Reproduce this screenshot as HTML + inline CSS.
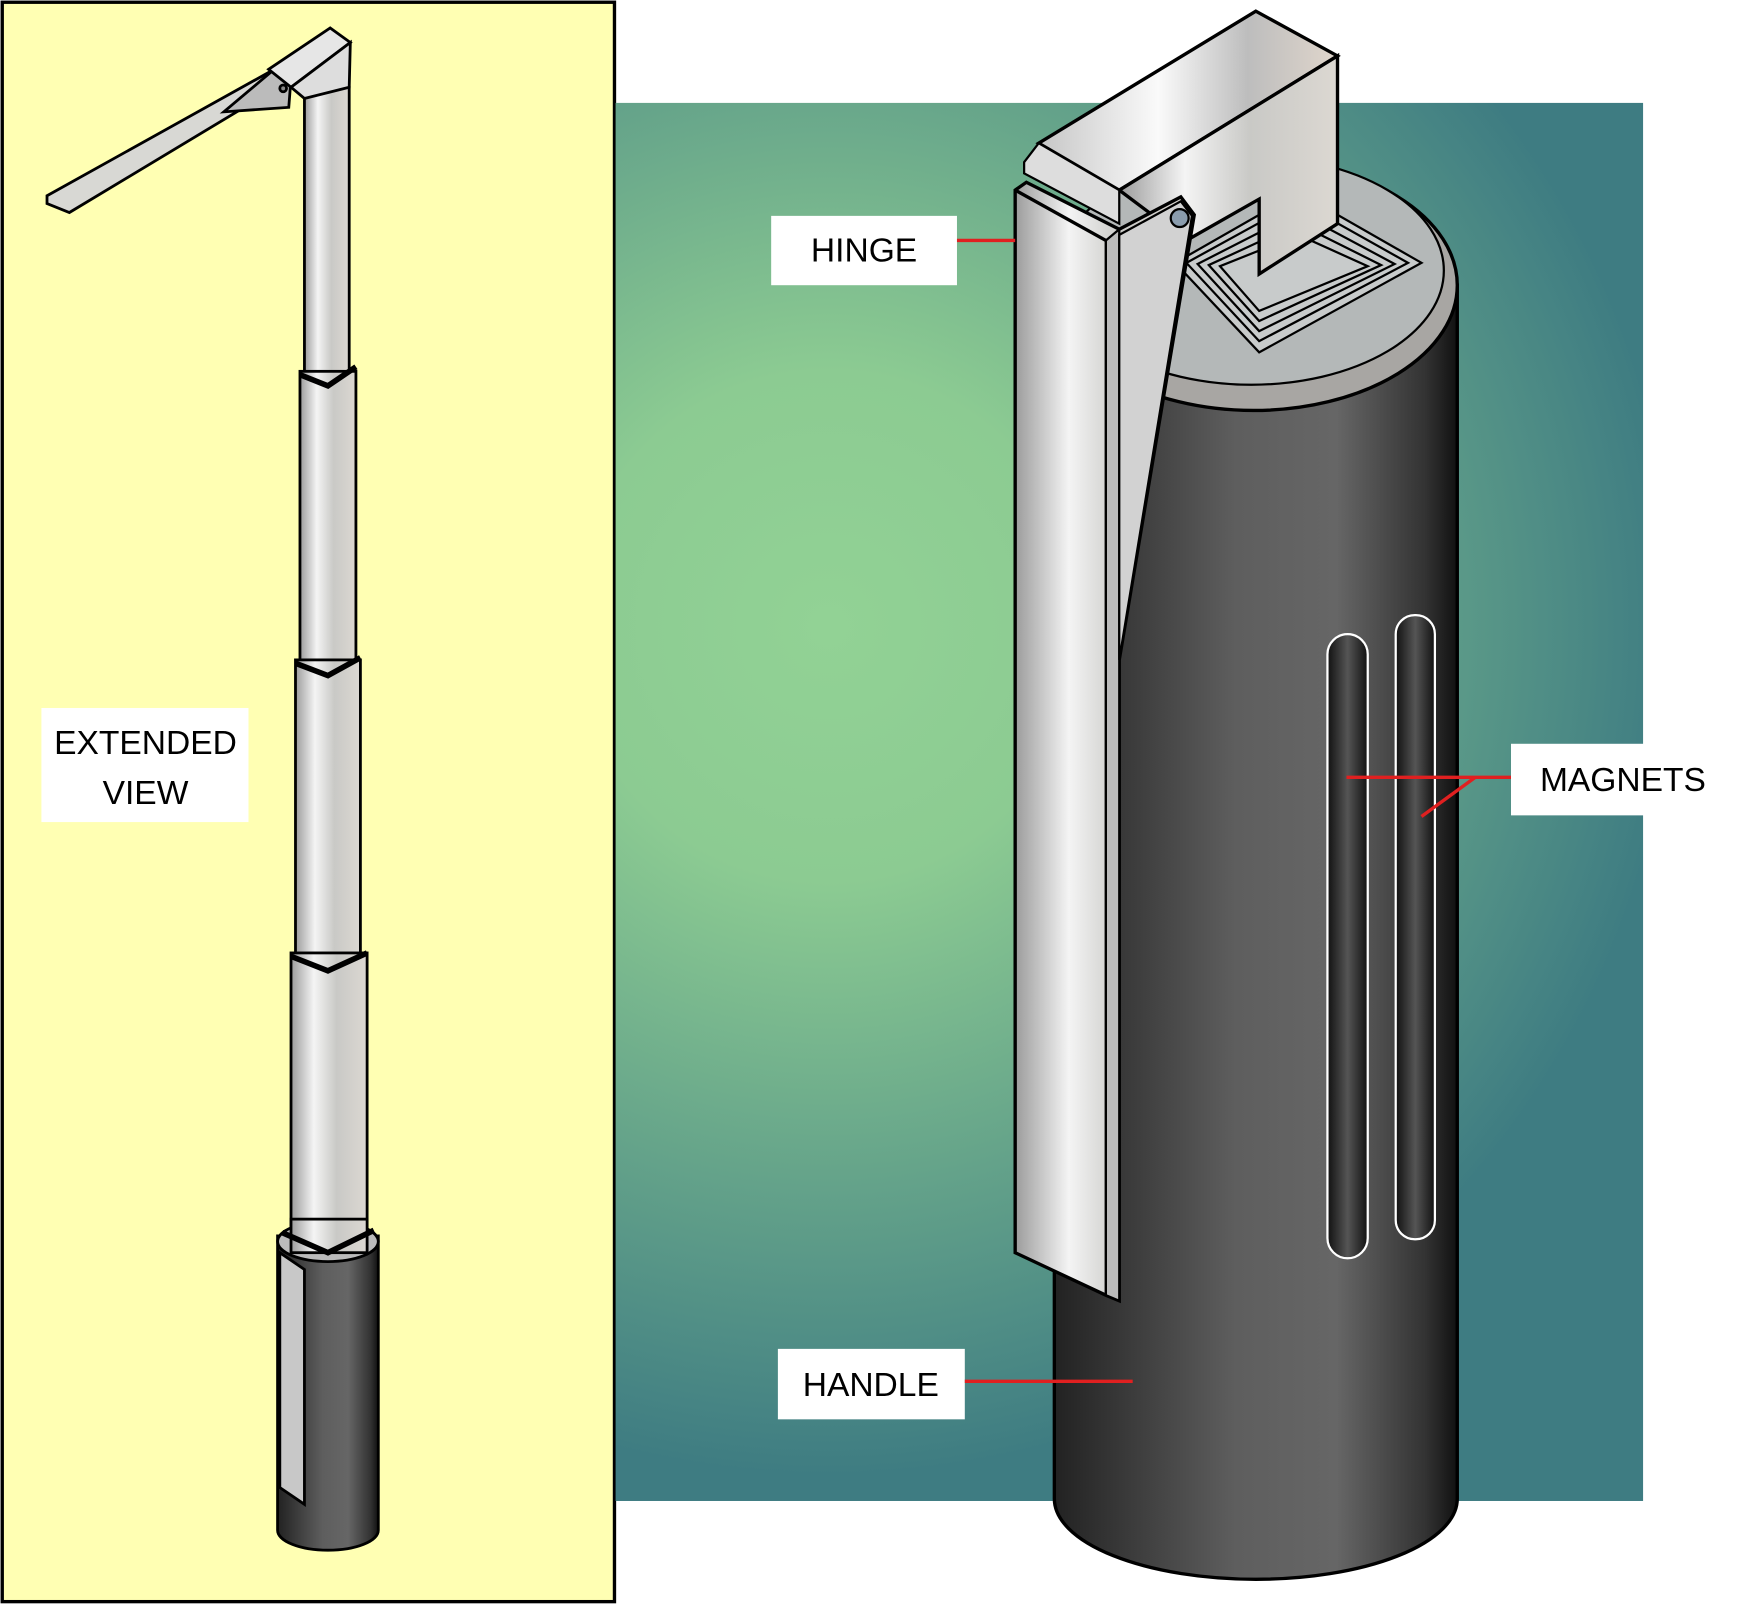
<!DOCTYPE html>
<html><head><meta charset="utf-8"><style>
html,body{margin:0;padding:0;background:#fff}
svg{display:block}
text{font-family:"Liberation Sans",sans-serif;font-size:30px;fill:#000}
</style></head><body>
<svg width="1755" height="1605" viewBox="0 0 1568 1435" preserveAspectRatio="none" xmlns="http://www.w3.org/2000/svg">
<defs>
<radialGradient id="bg" cx="740" cy="560" r="760" gradientUnits="userSpaceOnUse">
<stop offset="0" stop-color="#92d295"/><stop offset="0.3" stop-color="#8ccb92"/><stop offset="1" stop-color="#3e7c82"/></radialGradient>
<linearGradient id="cyl" x1="0" x2="1" y1="0" y2="0">
<stop offset="0" stop-color="#222"/><stop offset="0.45" stop-color="#5e5e5e"/><stop offset="0.7" stop-color="#666"/><stop offset="0.92" stop-color="#333"/><stop offset="1" stop-color="#111"/></linearGradient>
<linearGradient id="met" x1="0" x2="1" y1="0" y2="0">
<stop offset="0" stop-color="#9c9c9c"/><stop offset="0.3" stop-color="#f4f4f4"/><stop offset="0.6" stop-color="#c9c9c6"/><stop offset="1" stop-color="#dcd8d2"/></linearGradient>
<linearGradient id="met2" x1="0" x2="1" y1="0" y2="0">
<stop offset="0" stop-color="#c6c6c6"/><stop offset="0.4" stop-color="#fafafa"/><stop offset="0.7" stop-color="#bdbdbd"/><stop offset="1" stop-color="#e0d6cc"/></linearGradient>
<linearGradient id="slot" x1="0" x2="1"><stop offset="0" stop-color="#111"/><stop offset="0.5" stop-color="#555"/><stop offset="1" stop-color="#111"/></linearGradient>
</defs>
<rect x="2" y="2" width="547" height="1430" fill="#ffffb3" stroke="#000" stroke-width="3"/>
<rect x="550" y="92" width="918" height="1250" fill="url(#bg)"/>

<path d="M942 255 L942 1340 A180 72 0 0 0 1302 1340 L1302 255 Z" fill="url(#cyl)" stroke="#000" stroke-width="3"/>
<ellipse cx="1120" cy="255" rx="182" ry="112" fill="#a8a6a3" stroke="#000" stroke-width="3"/>
<ellipse cx="1118" cy="242" rx="172" ry="102" fill="#b4b8b8" stroke="#000" stroke-width="2"/>
<g fill="#c8cbcb" stroke="#000" stroke-width="2">
<polygon points="1050,235 1160,172 1270,235 1125,315"/>
<polygon points="1060,235 1160,180 1258,235 1125,305"/>
<polygon points="1070,236 1160,190 1246,236 1125,296"/>
<polygon points="1080,237 1160,200 1234,237 1125,287"/>
<polygon points="1090,238 1160,210 1222,238 1125,278"/>
</g>
<polygon points="928,128 1122,10 1195,50 1000,170" fill="url(#met2)" stroke="#000" stroke-width="3"/>
<polygon points="1195,50 1195,200 1125,245 1125,178 1060,215 1000,170" fill="url(#met)" stroke="#000" stroke-width="3"/>
<polygon points="915,145 928,128 1000,170 1000,200 915,155" fill="#ddd" stroke="#000" stroke-width="2"/>
<polygon points="907,170 917,163 1000,205 1055,176 1067,192 1000,590 1000,1163 988,1158 907,1120" fill="url(#met)" stroke="#000" stroke-width="3"/>
<polygon points="988,215 1000,205 1000,1163 988,1158" fill="#bbb" stroke="#000" stroke-width="2"/>
<polygon points="1000,210 1055,180 1065,193 1000,590" fill="#d2d2d2" stroke="#000" stroke-width="2"/>
<line x1="907" y1="170" x2="988" y2="215" stroke="#000" stroke-width="3"/>
<line x1="988" y1="215" x2="988" y2="1158" stroke="#000" stroke-width="2"/>
<circle cx="1054" cy="195" r="8" fill="#8a9cad" stroke="#000" stroke-width="2"/>
<rect x="1186" y="567" width="36" height="558" rx="18" fill="url(#slot)" stroke="#fff" stroke-width="2"/>
<rect x="1247" y="550" width="35" height="558" rx="17" fill="url(#slot)" stroke="#fff" stroke-width="2"/>

<rect x="689" y="193" width="166" height="62" fill="#fff"/>
<text x="772" y="234" text-anchor="middle">HINGE</text>
<line x1="855" y1="215" x2="907" y2="215" stroke="#e02020" stroke-width="3"/>
<rect x="1350" y="665" width="200" height="64" fill="#fff"/>
<text x="1450" y="707" text-anchor="middle">MAGNETS</text>
<polyline points="1203,695 1350,695" fill="none" stroke="#e02020" stroke-width="3"/>
<line x1="1318" y1="695" x2="1270" y2="730" stroke="#e02020" stroke-width="3"/>
<rect x="695" y="1206" width="167" height="63" fill="#fff"/>
<text x="778" y="1248" text-anchor="middle">HANDLE</text>
<line x1="862" y1="1235" x2="1012" y2="1235" stroke="#e02020" stroke-width="3"/>
<rect x="37" y="633" width="185" height="102" fill="#fff"/>
<text x="130" y="674" text-anchor="middle">EXTENDED</text>
<text x="130" y="719" text-anchor="middle">VIEW</text>

<g stroke="#000" stroke-width="2.5">
<polygon points="42,175 245,62 258,72 62,190 42,182" fill="#d8d8d4"/>
<polygon points="200,100 245,62 260,70 258,96" fill="#bbb"/>
<polygon points="240,62 295,25 313,38 260,78" fill="#e6e6e6"/>
<circle cx="253" cy="79" r="3" fill="#888"/>
<rect x="272" y="78" width="40" height="260" fill="url(#met)"/>
<polygon points="260,78 313,38 312,78 272,88" fill="#ddd"/>
<rect x="268" y="332" width="50" height="262" fill="url(#met)"/>
<rect x="264" y="590" width="58" height="266" fill="url(#met)"/>
<rect x="260" y="852" width="68" height="262" fill="url(#met)"/>
<path d="M248 1105 L248 1368 A45 18 0 0 0 338 1368 L338 1105 Z" fill="url(#cyl)"/>
<ellipse cx="293" cy="1110" rx="45" ry="18" fill="#bbb"/>
<rect x="260" y="1090" width="68" height="30" fill="url(#met)"/>
<polygon points="250,1120 272,1135 272,1345 250,1330" fill="#c8c8c8"/>
</g>
<g stroke="#000" stroke-width="5" fill="none">
<polyline points="268,335 293,345 318,328"/>
<polyline points="264,593 293,604 322,588"/>
<polyline points="260,855 293,868 328,852"/>
<polyline points="252,1102 293,1120 334,1100"/>
</g>
</svg>
</body></html>
